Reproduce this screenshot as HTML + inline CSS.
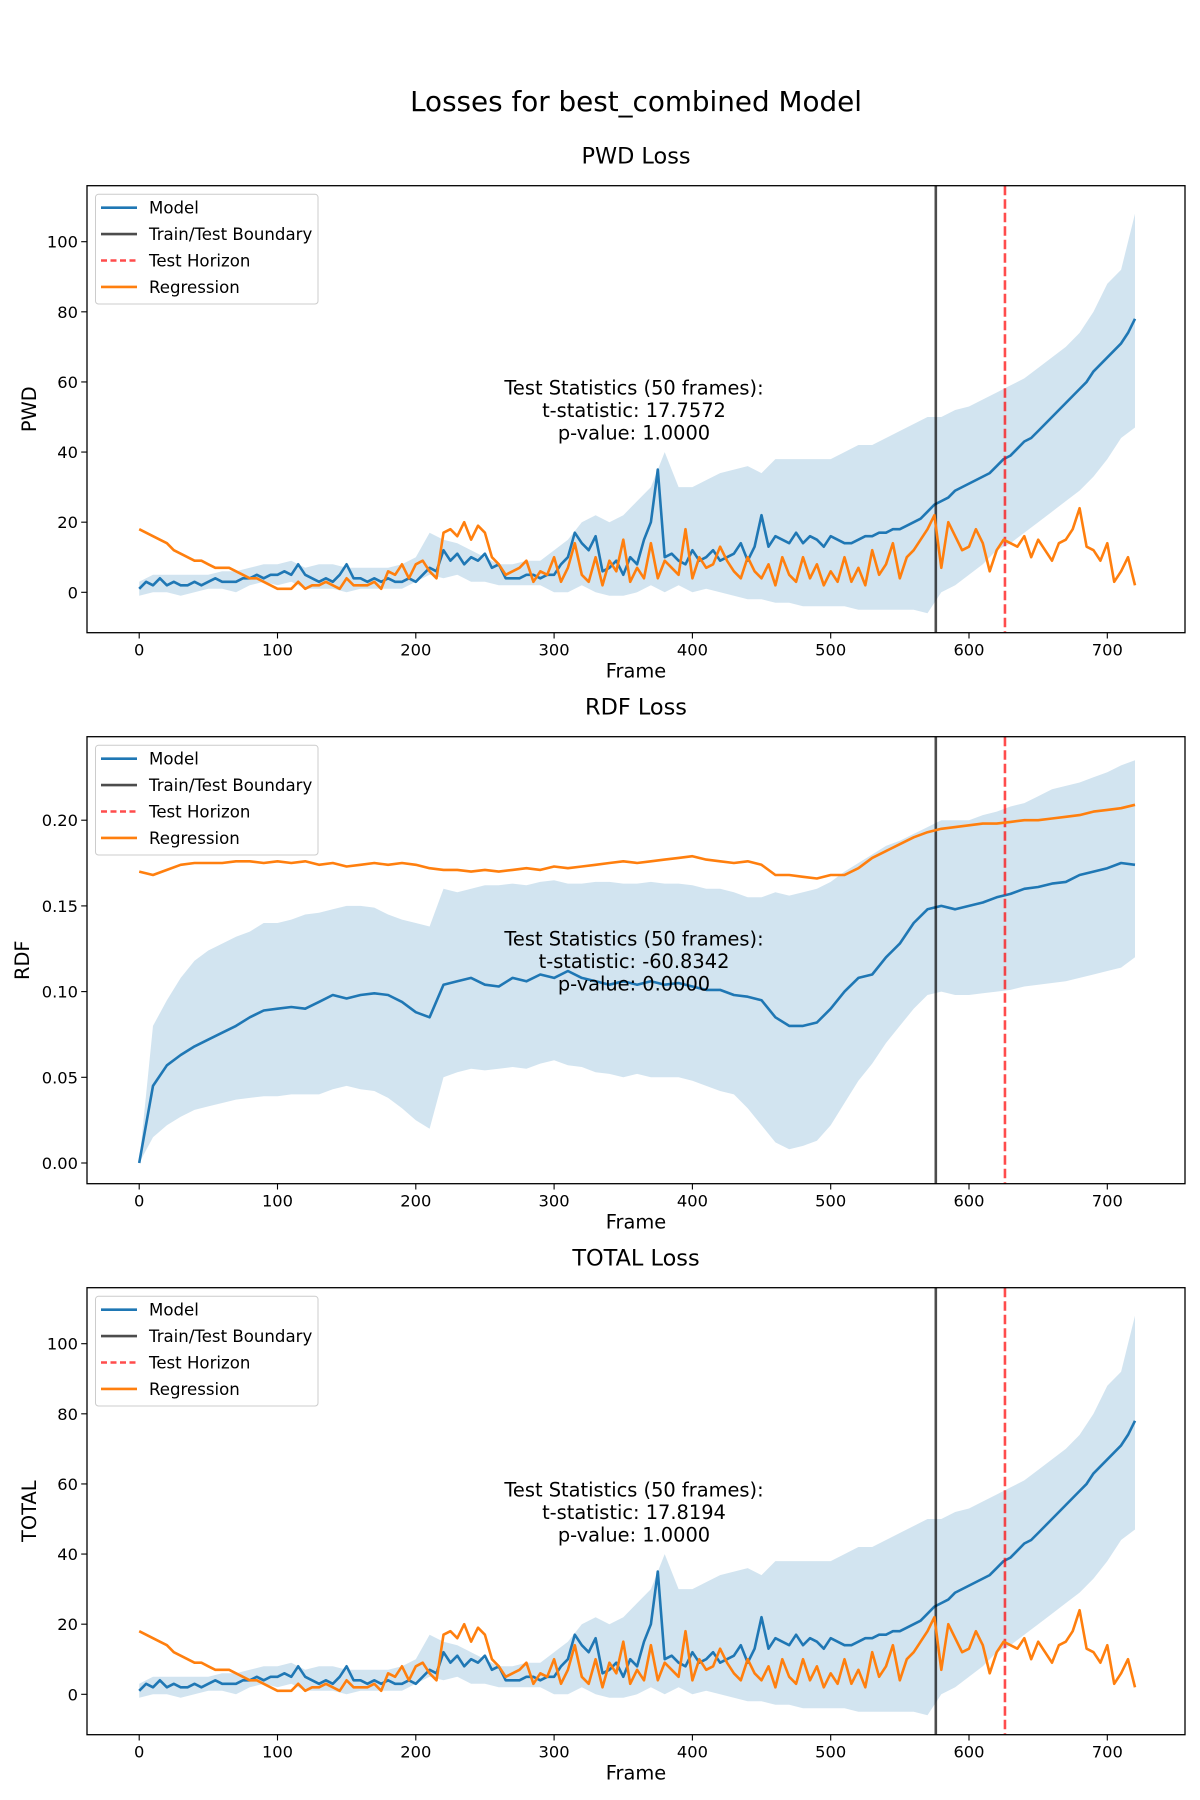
<!DOCTYPE html>
<html><head><meta charset="utf-8"><style>
html,body{margin:0;padding:0;background:#fff;}
svg{display:block;font-family:"DejaVu Sans","Liberation Sans",sans-serif;}
</style></head><body>
<svg id="fig" width="1200" height="1800" viewBox="0 0 1200 1800" xmlns="http://www.w3.org/2000/svg">
<rect x="0" y="0" width="1200" height="1800" fill="#fff"/>
<text x="636" y="111" font-size="27.8" text-anchor="middle" fill="#000">Losses for best_combined Model</text>
</svg>
<script>
// ---- data ----
const frames5 = []; for (let f = 0; f <= 720; f += 5) frames5.push(f);
const frames10 = []; for (let f = 0; f <= 720; f += 10) frames10.push(f);
const xTicks = [0, 100, 200, 300, 400, 500, 600, 700];
const pwdTicks = [0, 20, 40, 60, 80, 100];
const rdfTicks = [0.00, 0.05, 0.10, 0.15, 0.20];
const totalTicks = [0, 20, 40, 60, 80, 100];
const boundaryFrame = 576;
const horizonFrame = 626;

const pwdModel = [1,3,2,4,2,3,2,2,3,2,3,4,3,3,3,
4,4,5,4,5,5,6,5,8,5,4,3,4,3,5,
8,4,4,3,4,3,4,3,3,4,3,5,7,6,12,
9,11,8,10,9,11,7,8,4,4,4,5,5,4,5,
5,8,10,17,14,12,16,6,7,9,5,10,8,15,20,
35,10,11,9,8,12,9,10,12,9,10,11,14,9,13,
22,13,16,15,14,17,14,16,15,13,16,15,14,14,15,
16,16,17,17,18,18,19,20,21,23,25,26,27,29,30,
31,32,33,34,36,38,39,41,43,44,46,48,50,52,54,
56,58,60,63,65,67,69,71,74,78];
const pwdReg = [18,17,16,15,14,12,11,10,9,9,8,7,7,7,6,
5,4,4,3,2,1,1,1,3,1,2,2,3,2,1,
4,2,2,2,3,1,6,5,8,4,8,9,6,4,17,
18,16,20,15,19,17,10,8,5,6,7,9,3,6,5,
10,3,7,14,5,3,10,2,9,6,15,3,7,4,14,
4,9,7,5,18,4,10,7,8,13,9,6,4,10,6,
4,8,2,10,5,3,10,4,8,2,6,3,10,3,7,
2,12,5,8,14,4,10,12,15,18,22,7,20,16,12,
13,18,14,6,12,15,14,13,16,10,15,12,9,14,15,
18,24,13,12,9,14,3,6,10,2];
const pwdLow = [-1,0,0,-1,0,1,1,0,2,3,
2,3,1,1,1,0,1,1,1,1,
3,5,4,5,3,3,2,2,2,2,
0,0,2,0,-1,-1,0,2,0,2,
0,1,0,-1,-2,-2,-3,-3,-4,-4,
-4,-4,-5,-5,-5,-5,-5,-6,0,2,
5,8,12,14,17,20,23,26,29,33,
38,44,47];
const pwdHigh = [3,5,5,5,5,5,6,6,7,8,
8,9,7,8,8,7,7,7,7,8,
10,17,15,14,12,10,8,8,9,9,
12,15,20,22,20,22,26,30,40,30,
30,32,34,35,36,34,38,38,38,38,
38,40,42,42,44,46,48,50,50,52,
53,55,57,59,61,64,67,70,74,80,
88,92,108];

const rdfModel = [0.0,0.045,0.057,0.063,0.068,0.072,0.076,0.080,0.085,0.089,
0.090,0.091,0.090,0.094,0.098,0.096,0.098,0.099,0.098,0.094,
0.088,0.085,0.104,0.106,0.108,0.104,0.103,0.108,0.106,0.110,
0.108,0.112,0.108,0.106,0.104,0.106,0.104,0.106,0.104,0.105,
0.103,0.101,0.101,0.098,0.097,0.095,0.085,0.080,0.080,0.082,
0.090,0.100,0.108,0.110,0.120,0.128,0.140,0.148,0.150,0.148,
0.150,0.152,0.155,0.157,0.160,0.161,0.163,0.164,0.168,0.170,
0.172,0.175,0.174];
const rdfReg = [0.170,0.168,0.171,0.174,0.175,0.175,0.175,0.176,0.176,0.175,
0.176,0.175,0.176,0.174,0.175,0.173,0.174,0.175,0.174,0.175,
0.174,0.172,0.171,0.171,0.170,0.171,0.170,0.171,0.172,0.171,
0.173,0.172,0.173,0.174,0.175,0.176,0.175,0.176,0.177,0.178,
0.179,0.177,0.176,0.175,0.176,0.174,0.168,0.168,0.167,0.166,
0.168,0.168,0.172,0.178,0.182,0.186,0.190,0.193,
0.195,0.196,0.197,0.198,0.198,0.199,0.200,0.200,0.201,0.202,0.203,0.205,0.206,0.207,0.209];
const rdfLow = [0.0,0.015,0.022,0.027,0.031,0.033,0.035,0.037,0.038,0.039,
0.039,0.040,0.040,0.040,0.043,0.045,0.043,0.042,0.038,0.032,
0.025,0.020,0.050,0.053,0.055,0.054,0.055,0.056,0.055,0.058,
0.060,0.057,0.056,0.053,0.052,0.050,0.052,0.050,0.050,0.050,
0.048,0.045,0.042,0.040,0.032,0.022,0.012,0.008,0.010,0.013,
0.022,0.035,0.048,0.058,0.070,0.080,0.090,0.098,0.100,0.098,
0.098,0.099,0.100,0.101,0.103,0.104,0.105,0.106,0.108,0.110,
0.112,0.114,0.120];
const rdfHigh = [0.0,0.080,0.095,0.108,0.118,0.124,0.128,0.132,0.135,0.140,
0.140,0.142,0.145,0.146,0.148,0.150,0.150,0.149,0.145,0.142,
0.140,0.138,0.160,0.158,0.160,0.162,0.162,0.163,0.162,0.164,
0.165,0.163,0.163,0.164,0.164,0.163,0.163,0.164,0.163,0.163,
0.162,0.160,0.160,0.158,0.155,0.155,0.158,0.156,0.158,0.160,
0.164,0.170,0.175,0.180,0.185,0.188,0.192,0.196,0.200,0.200,
0.200,0.203,0.205,0.208,0.210,0.214,0.218,0.220,0.222,0.225,
0.228,0.232,0.235];

const totalModel = [1,3,2,4,2,3,2,2,3,2,3,4,3,3,3,
4,4,5,4,5,5,6,5,8,5,4,3,4,3,5,
8,4,4,3,4,3,4,3,3,4,3,5,7,6,12,
9,11,8,10,9,11,7,8,4,4,4,5,5,4,5,
5,8,10,17,14,12,16,6,7,9,5,10,8,15,20,
35,10,11,9,8,12,9,10,12,9,10,11,14,9,13,
22,13,16,15,14,17,14,16,15,13,16,15,14,14,15,
16,16,17,17,18,18,19,20,21,23,25,26,27,29,30,
31,32,33,34,36,38,39,41,43,44,46,48,50,52,54,
56,58,60,63,65,67,69,71,74,78];
const totalReg = [18,17,16,15,14,12,11,10,9,9,8,7,7,7,6,
5,4,4,3,2,1,1,1,3,1,2,2,3,2,1,
4,2,2,2,3,1,6,5,8,4,8,9,6,4,17,
18,16,20,15,19,17,10,8,5,6,7,9,3,6,5,
10,3,7,14,5,3,10,2,9,6,15,3,7,4,14,
4,9,7,5,18,4,10,7,8,13,9,6,4,10,6,
4,8,2,10,5,3,10,4,8,2,6,3,10,3,7,
2,12,5,8,14,4,10,12,15,18,22,7,20,16,12,
13,18,14,6,12,15,14,13,16,10,15,12,9,14,15,
18,24,13,12,9,14,3,6,10,2];
const totalLow = [-1,0,0,-1,0,1,1,0,2,3,
2,3,1,1,1,0,1,1,1,1,
3,5,4,5,3,3,2,2,2,2,
0,0,2,0,-1,-1,0,2,0,2,
0,1,0,-1,-2,-2,-3,-3,-4,-4,
-4,-4,-5,-5,-5,-5,-5,-6,0,2,
5,8,12,14,17,20,23,26,29,33,
38,44,47];
const totalHigh = [3,5,5,5,5,5,6,6,7,8,
8,9,7,8,8,7,7,7,7,8,
10,17,15,14,12,10,8,8,9,9,
12,15,20,22,20,22,26,30,40,30,
30,32,34,35,36,34,38,38,38,38,
38,40,42,42,44,46,48,50,50,52,
53,55,57,59,61,64,67,70,74,80,
88,92,108];

// ---- drawing ----
const NS = 'http://www.w3.org/2000/svg';
const svg = document.getElementById('fig');
const AX_L = 87, AX_R = 1185, AX_H = 447;
function xScale(v) { return 139.2 + 1.383 * v; }
function mk(tag, attrs, parent) {
  const e = document.createElementNS(NS, tag);
  for (const k in attrs) e.setAttribute(k, attrs[k]);
  (parent || svg).appendChild(e);
  return e;
}
function linePath(xs, ys, yS) {
  return xs.map((f, i) => (i ? 'L' : 'M') + xScale(f).toFixed(1) + ',' + yS(ys[i]).toFixed(1)).join('');
}

function drawPanel(cfg) {
  const top = cfg.top, bottom = top + AX_H;
  const g = mk('g', {});
  
  
  const clipId = 'clip-' + cfg.key;
  const cp = mk('clipPath', { id: clipId }, g);
  mk('rect', { x: AX_L, y: top, width: AX_R - AX_L, height: AX_H }, cp);
  const yS = cfg.yScale;
  const plot = mk('g', { 'clip-path': 'url(#' + clipId + ')' }, g);

  let d = cfg.bandFrames.map((f, i) => (i ? 'L' : 'M') + xScale(f).toFixed(1) + ',' + yS(cfg.high[i]).toFixed(1)).join('');
  for (let i = cfg.bandFrames.length - 1; i >= 0; i--) d += 'L' + xScale(cfg.bandFrames[i]).toFixed(1) + ',' + yS(cfg.low[i]).toFixed(1);
  const band = mk('path', { d: d + 'Z', fill: '#1f77b4', 'fill-opacity': '0.2', stroke: 'none' }, plot);
  
  

  const mLine = mk('path', { d: linePath(cfg.modelFrames, cfg.model, yS), fill: 'none', stroke: '#1f77b4', 'stroke-width': '2.6', 'stroke-linejoin': 'round' }, plot);
  
  

  const bx = xScale(boundaryFrame);
  const bl = mk('line', { x1: bx, x2: bx, y1: top, y2: bottom, stroke: '#000', 'stroke-opacity': '0.7', 'stroke-width': '2.6' }, plot);
  
  
  const hx = xScale(horizonFrame);
  const hl = mk('line', { x1: hx, x2: hx, y1: top, y2: bottom, stroke: '#ff0000', 'stroke-opacity': '0.7', 'stroke-width': '2.6', 'stroke-dasharray': '9.5,4' }, plot);
  
  

  const rLine = mk('path', { d: linePath(cfg.regFrames, cfg.reg, yS), fill: 'none', stroke: '#ff7f0e', 'stroke-width': '2.6', 'stroke-linejoin': 'round' }, plot);
  
  

  const fr = mk('rect', { x: AX_L, y: top, width: AX_R - AX_L, height: AX_H, fill: 'none', stroke: '#000', 'stroke-width': '1.3' }, g);
  
  

  xTicks.forEach(t => {
    const x = xScale(t);
    mk('line', { x1: x, x2: x, y1: bottom, y2: bottom + 5.8, stroke: '#000', 'stroke-width': '1.1' }, g);
    const tx = mk('text', { x: x, y: bottom + 23, 'font-size': '16.3', 'text-anchor': 'middle', fill: '#000' }, g);
    tx.textContent = String(t);
    
    
  });
  cfg.ticks.forEach(t => {
    const y = yS(t);
    mk('line', { x1: AX_L - 5.8, x2: AX_L, y1: y, y2: y, stroke: '#000', 'stroke-width': '1.1' }, g);
    const ty = mk('text', { x: AX_L - 9, y: y + 6, 'font-size': '16.3', 'text-anchor': 'end', fill: '#000' }, g);
    ty.textContent = cfg.fmt(t);
    
    
  });
  const xl = mk('text', { x: 636, y: bottom + 45, 'font-size': '19.4', 'text-anchor': 'middle', fill: '#000' }, g);
  xl.textContent = 'Frame';
  
  
  const cy = top + AX_H / 2;
  const yl = mk('text', { x: cfg.ylx, y: cy, 'font-size': '19.4', 'text-anchor': 'middle', fill: '#000', transform: 'rotate(-90 ' + cfg.ylx + ' ' + cy + ')' }, g);
  yl.textContent = cfg.ylabel;
  
  
  const ti = mk('text', { x: 636, y: top - 22, 'font-size': '22.4', 'text-anchor': 'middle', fill: '#000' }, g);
  ti.textContent = cfg.title;
  
  

  cfg.stats.forEach((s, i) => {
    const at = mk('text', { x: 634, y: top + 209 + i * 22.3, 'font-size': '19.4', 'text-anchor': 'middle', fill: '#000' }, g);
    at.textContent = s;
    
    
  });

  const lg = mk('g', {}, g);
  
  
  mk('rect', { x: 95.5, y: top + 8.6, width: 222.5, height: 109.7, rx: 3, fill: '#fff', 'fill-opacity': '0.8', stroke: '#ccc', 'stroke-width': '1' }, lg);
  const entries = [
    ['Model', '#1f77b4', 1, null],
    ['Train/Test Boundary', '#000', 0.7, null],
    ['Test Horizon', '#ff0000', 0.7, '9.5,4'],
    ['Regression', '#ff7f0e', 1, null]];
  entries.forEach((e, i) => {
    const y = top + 22 + i * 26.4;
    const ln = mk('line', { x1: 101, x2: 137, y1: y, y2: y, stroke: e[1], 'stroke-opacity': e[2], 'stroke-width': '2.6' }, lg);
    if (e[3]) ln.setAttribute('stroke-dasharray', '6,3.5');
    const tx = mk('text', { x: 149, y: y + 6, 'font-size': '16.6', fill: '#000' }, lg);
    tx.textContent = e[0];
    
    
  });
}

drawPanel({ key: 'pwd', top: 185.7, yScale: v => 592.3 - 3.506 * v, ticks: pwdTicks, fmt: t => String(t),
  ylabel: 'PWD', ylx: 36, title: 'PWD Loss',
  modelFrames: frames5, model: pwdModel, regFrames: frames5, reg: pwdReg,
  bandFrames: frames10, low: pwdLow, high: pwdHigh,
  stats: ['Test Statistics (50 frames):', 't-statistic: 17.7572', 'p-value: 1.0000'] });
drawPanel({ key: 'rdf', top: 736.7, yScale: v => 1163 - 1714 * v, ticks: rdfTicks, fmt: t => t.toFixed(2),
  ylabel: 'RDF', ylx: 29, title: 'RDF Loss',
  modelFrames: frames10, model: rdfModel, regFrames: frames10, reg: rdfReg,
  bandFrames: frames10, low: rdfLow, high: rdfHigh,
  stats: ['Test Statistics (50 frames):', 't-statistic: -60.8342', 'p-value: 0.0000'] });
drawPanel({ key: 'total', top: 1287.7, yScale: v => 1694.3 - 3.506 * v, ticks: totalTicks, fmt: t => String(t),
  ylabel: 'TOTAL', ylx: 36, title: 'TOTAL Loss',
  modelFrames: frames5, model: totalModel, regFrames: frames5, reg: totalReg,
  bandFrames: frames10, low: totalLow, high: totalHigh,
  stats: ['Test Statistics (50 frames):', 't-statistic: 17.8194', 'p-value: 1.0000'] });
</script>
</body></html>
